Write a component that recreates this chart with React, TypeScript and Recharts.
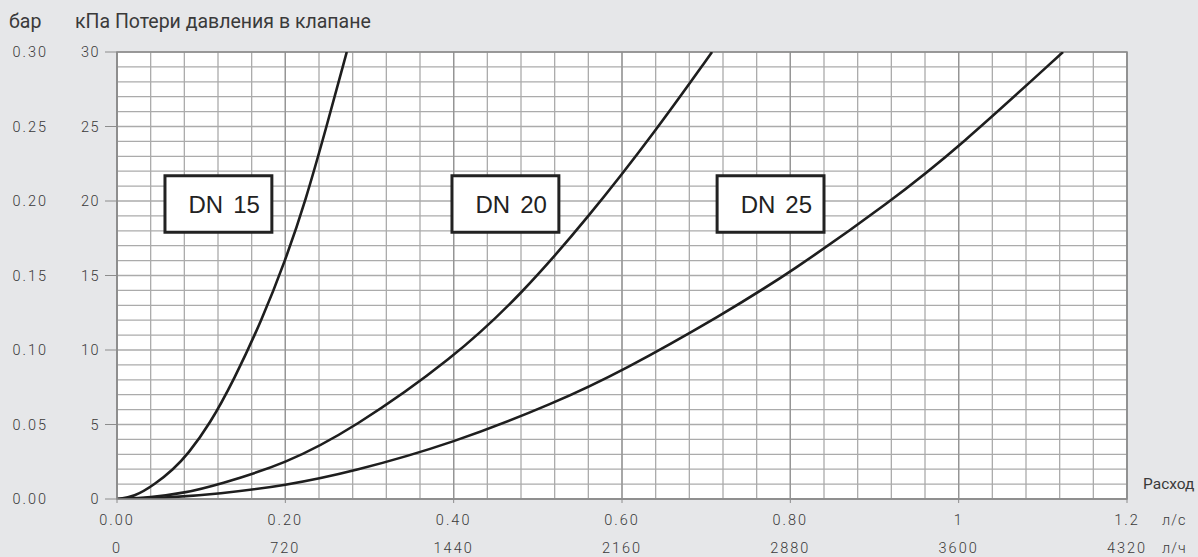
import React from 'react';
import { LineChart, Line, XAxis, YAxis, CartesianGrid, ReferenceArea, Customized } from 'recharts';

// ---- data ----
const dn15Flow = [0, 0.02, 0.0455, 0.067, 0.084, 0.11, 0.139, 0.172, 0.2, 0.224, 0.249, 0.273];
const dn15Dp = [0, 0.12, 1, 2, 3, 5, 8, 12, 16, 20, 25, 30];

const dn20Flow = [0, 0.04, 0.08, 0.12, 0.2, 0.28, 0.4, 0.48, 0.56, 0.64, 0.707];
const dn20Dp = [0, 0.1, 0.4, 0.96, 2.35, 4.7, 9.46, 13.7, 18.9, 24.7, 30];

const dn25Flow = [0, 0.06, 0.12, 0.2, 0.28, 0.4, 0.52, 0.6, 0.72, 0.8, 0.92, 1.0, 1.124];
const dn25Dp = [0, 0.08, 0.34, 0.9, 1.83, 3.76, 6.44, 8.57, 12.4, 15.2, 20.0, 23.6, 30];

const seriesNames = ['DN 15', 'DN 20', 'DN 25'];
const boxFlowFrom = [0.057, 0.398, 0.713];
const boxFlowTo = [0.184, 0.525, 0.84];
const boxDpFrom = [17.9, 17.9, 17.9];
const boxDpTo = [21.7, 21.7, 21.7];

const kpaTicks = [0, 5, 10, 15, 20, 25, 30];
const barTickLabels = ['0.00', '0.05', '0.10', '0.15', '0.20', '0.25', '0.30'];
const lsTicks = [0, 0.2, 0.4, 0.6, 0.8, 1, 1.2];
const lsTickLabels = ['0.00', '0.20', '0.40', '0.60', '0.80', '1', '1.2'];
const lhTickLabels = ['0', '720', '1440', '2160', '2880', '3600', '4320'];

// grid positions (axis units)
const gridFlowMinor = Array.from({ length: 31 }, (_, i) => Math.round(i * 4) / 100);
const gridFlowMajor = [0, 0.2, 0.4, 0.6, 0.8, 1.0, 1.2];
const gridDp = Array.from({ length: 31 }, (_, i) => i);

const pts = (xs: number[], ys: number[]) => xs.map((x, i) => ({ x, y: ys[i] }));
const series = [pts(dn15Flow, dn15Dp), pts(dn20Flow, dn20Dp), pts(dn25Flow, dn25Dp)];

const W = 1198;
const H = 557;
const BG = '#e6e7e9';
const TXT = '#3a3a3a';
const NUM_FONT = 'Roboto, "DejaVu Sans", sans-serif';

const scaleOr = (axis: any, v: number, fallback: number) =>
  axis && typeof axis.scale === 'function' ? axis.scale(v) : fallback;

const vGen = (values: number[]) => (props: any) => {
  const { xAxis, offset } = props;
  return values.map((v) => scaleOr(xAxis, v, offset.left + (offset.width * v) / 1.2));
};
const hGen = (values: number[]) => (props: any) => {
  const { yAxis, offset } = props;
  return values.map((v) => scaleOr(yAxis, v, offset.top + offset.height - (offset.height * v) / 30));
};

const YTick = (props: any) => {
  const { x, y, payload, index } = props;
  return (
    <g>
      <text x={x} y={y} dy="0.36em" textAnchor="end" fontFamily={NUM_FONT} fontWeight={300} fontSize={14.5} letterSpacing={1.5} fill={TXT}>
        {String(payload.value)}
      </text>
      <text x={x - 52} y={y} dy="0.36em" textAnchor="end" fontFamily={NUM_FONT} fontWeight={300} fontSize={14.5} letterSpacing={2} fill={TXT}>
        {barTickLabels[index]}
      </text>
    </g>
  );
};

const XTick = (props: any) => {
  const { x, y, index } = props;
  return (
    <g>
      <text x={x} y={y + 17} dy="0.36em" textAnchor="middle" fontFamily={NUM_FONT} fontWeight={300} fontSize={14.5} letterSpacing={2} fill={TXT}>
        {lsTickLabels[index]}
      </text>
      <text x={x} y={y + 45} dy="0.36em" textAnchor="middle" fontFamily={NUM_FONT} fontWeight={300} fontSize={14.5} letterSpacing={2} fill={TXT}>
        {lhTickLabels[index]}
      </text>
    </g>
  );
};

const makeBoxLabel = (name: string) => (props: any) => {
  const vb = props.viewBox || {};
  const parts = name.split(' ');
  return (
    <text
      x={vb.x + vb.width - 12}
      y={vb.y + vb.height / 2}
      dy="0.36em"
      textAnchor="end"
      fontFamily='"Liberation Sans", Arial, sans-serif'
      fontSize={24}
      fill="#222"
    >
      <tspan>{parts[0]}</tspan>
      <tspan dx={10}>{parts[1]}</tspan>
    </text>
  );
};

const Texts = () => (
  <g fill={TXT}>
    <text x={9} y={28} fontFamily={NUM_FONT} fontSize={19.5} fill={TXT}>бар</text>
    <text x={75} y={28} fontFamily={NUM_FONT} fontSize={19.5} fill={TXT}>кПа Потери давления в клапане</text>
    <text x={1143} y={489} fontFamily={NUM_FONT} fontSize={15.5} fill={TXT}>Расход</text>
    <text x={1162} y={520} dy="0.36em" fontFamily={NUM_FONT} fontWeight={300} fontSize={14.5} letterSpacing={1} fill={TXT}>л/с</text>
    <text x={1162} y={548} dy="0.36em" fontFamily={NUM_FONT} fontWeight={300} fontSize={14.5} letterSpacing={1} fill={TXT}>л/ч</text>
  </g>
);

export default function App() {
  return (
    <div style={{ position: 'absolute', left: 0, top: 0, width: W, height: H, background: BG }}>
      <LineChart width={W} height={H} margin={{ top: 52, right: 71, bottom: 0, left: 0 }}>
        <CartesianGrid
          fill="#ffffff"
          stroke="#ababab"
          strokeWidth={1.3}
          verticalCoordinatesGenerator={vGen(gridFlowMinor)}
          horizontalCoordinatesGenerator={hGen(gridDp)}
        />
        <CartesianGrid
          horizontal={false}
          stroke="#959595"
          strokeWidth={1.3}
          verticalCoordinatesGenerator={vGen(gridFlowMajor)}
        />
        <XAxis
          type="number"
          dataKey="x"
          domain={[0, 1.2]}
          ticks={lsTicks}
          allowDataOverflow
          height={58}
          tickSize={4}
          tickMargin={0}
          axisLine={{ stroke: '#8c8c8c', strokeWidth: 1.5 }}
          tickLine={{ stroke: '#8c8c8c' }}
          tick={<XTick />}
          interval={0}
        />
        <YAxis
          type="number"
          domain={[0, 30]}
          ticks={kpaTicks}
          allowDataOverflow
          width={117}
          tickSize={12}
          tickMargin={5}
          axisLine={{ stroke: '#8c8c8c', strokeWidth: 1.5 }}
          tickLine={{ stroke: '#8c8c8c' }}
          tick={<YTick />}
          interval={0}
        />
        <ReferenceArea x1={0} x2={1.2} y1={0} y2={30} fill="none" stroke="#8c8c8c" strokeWidth={1.5} fillOpacity={0} />
        {seriesNames.map((name, i) => (
          <ReferenceArea
            key={name}
            x1={boxFlowFrom[i]}
            x2={boxFlowTo[i]}
            y1={boxDpFrom[i]}
            y2={boxDpTo[i]}
            fill="#ffffff"
            fillOpacity={1}
            stroke="#222"
            strokeWidth={3}
            label={makeBoxLabel(name)}
          />
        ))}
        {series.map((d, i) => (
          <Line
            key={seriesNames[i]}
            name={seriesNames[i]}
            data={d}
            dataKey="y"
            type="basis"
            stroke="#1e1e1e"
            strokeWidth={2.6}
            dot={false}
            activeDot={false}
            isAnimationActive={false}
          />
        ))}
        <Customized component={Texts} />
      </LineChart>
    </div>
  );
}
